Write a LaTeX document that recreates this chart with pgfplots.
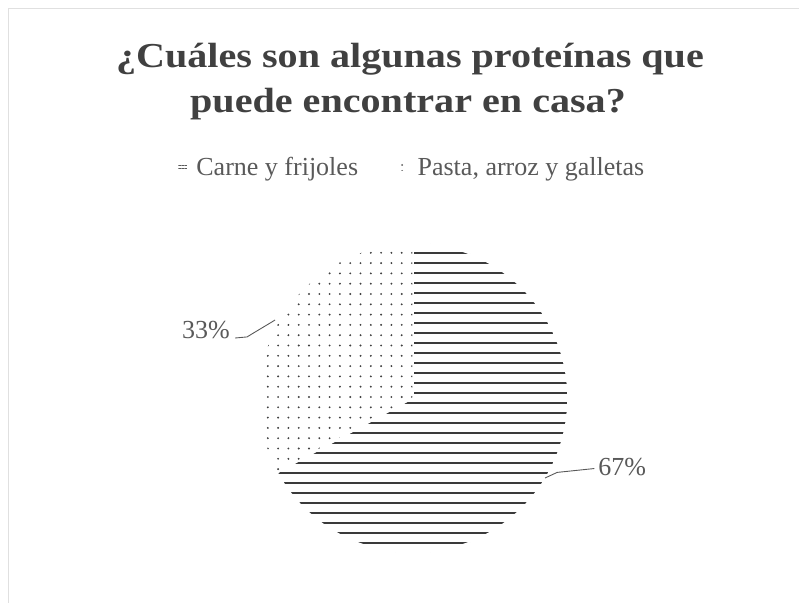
\documentclass[border=0pt]{standalone}
\usepackage{fontspec}
\setmainfont{Liberation Serif}
\usepackage{pgfplots}
\pgfplotsset{compat=1.18}
\usetikzlibrary{patterns.meta}
\definecolor{titlec}{HTML}{404040}
\definecolor{txtc}{HTML}{595959}
\definecolor{linec}{HTML}{3A3A3A}
\definecolor{dotc}{HTML}{404040}
% data (percent)
\def\carne{67}
\def\pasta{33}
\begin{document}
\begin{tikzpicture}[x=1pt,y=1pt]
\pgfmathsetmacro\splitang{90-3.6*\carne}
\pgfmathsetmacro\pastaend{90+3.6*\pasta}
\path[use as bounding box] (0pt,0pt) rectangle (799pt,603pt);
\draw[black!12, line width=1pt] (8pt,0pt) -- (8pt,594pt) -- (799pt,594pt);
\node[anchor=base, font=\fontsize{34}{40}\selectfont\bfseries, text=titlec, inner sep=0pt] at (410pt,535pt) {\scalebox{1.18}[1.03]{¿Cuáles son algunas proteínas que}};
\node[anchor=base, font=\fontsize{34}{40}\selectfont\bfseries, text=titlec, inner sep=0pt] at (408pt,490pt) {\scalebox{1.18}[1.03]{puede encontrar en casa?}};
\begin{axis}[
  at={(413pt,205pt)}, anchor=center,
  width=310pt, height=310pt, scale only axis,
  xmin=-1, xmax=1, ymin=-1, ymax=1,
  hide axis, clip=false,
  legend columns=2,
  legend style={at={(axis description cs:-0.2613,1.2452)}, anchor=west,
    draw=none, fill=none, inner sep=0pt,
    font=\fontsize{26}{31}\selectfont, text=txtc,
    nodes={inner xsep=0pt, inner ysep=1pt}},
]
\addplot[draw=white, line width=1.5pt,
  pattern={Lines[angle=0,distance=10pt,line width=1.6pt]}, pattern color=linec,
  domain=\splitang:90, samples=240, variable=\t,
  legend image code/.code={
    \fill[pattern={Lines[angle=0,distance=3pt,line width=0.9pt]}, pattern color=txtc] (0pt,-4.5pt) rectangle (10pt,4.5pt);
    \path (18pt,0pt);}
  ] ({cos(\t)},{sin(\t)}) -- (axis cs:0,0) -- cycle;
\addlegendentry{Carne y frijoles\makebox[41pt]{}}
\addplot[draw=white, line width=1.5pt,
  pattern={Dots[distance=10.3pt,radius=1.05pt]}, pattern color=dotc,
  domain=90:\pastaend, samples=120, variable=\t,
  legend image code/.code={
    \fill[pattern={Dots[distance=6pt,radius=1pt]}, pattern color=txtc] (0pt,-4.5pt) rectangle (8pt,4.5pt);
    \path (17pt,0pt);}
  ] ({cos(\t)},{sin(\t)}) -- (axis cs:0,0) -- cycle;
\addlegendentry{Pasta, arroz y galletas}
% leader lines
\addplot[txtc, line width=0.9pt, forget plot] coordinates {(-1.148,0.387) (-1.071,0.394) (-0.89,0.503)};
\addplot[txtc, line width=0.9pt, forget plot] coordinates {(0.852,-0.516) (0.93,-0.48) (1.17,-0.455)};
\node[anchor=east, inner sep=0pt, font=\fontsize{26}{31}\selectfont, text=txtc] at (axis cs:-1.181,0.439) {33\%};
\node[anchor=west, inner sep=0pt, font=\fontsize{26}{31}\selectfont, text=txtc] at (axis cs:1.194,-0.445) {67\%};
\end{axis}
\end{tikzpicture}
\end{document}
